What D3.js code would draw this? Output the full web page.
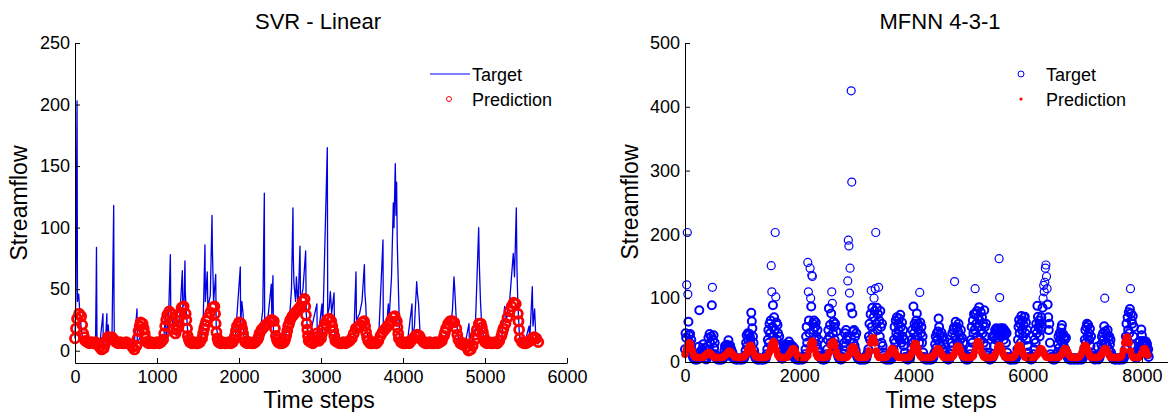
<!DOCTYPE html>
<html>
<head>
<meta charset="utf-8">
<script src="https://cdn.jsdelivr.net/npm/d3@7"></script>
<style>
  body { margin: 0; background: #fff; }
  svg { display: block; font-family: "Liberation Sans", Arial, sans-serif; }
</style>
</head>
<body>
<svg id="chart" width="1168" height="412"></svg>
<script>
// ---- SVR - Linear (left panel) ----
// target: [time step, streamflow]
const svrTarget = [
  [0,10],[10,45],[25,203],[30,40],[45,46],[60,30],[80,15],[100,8],[150,5],[200,4],[250,5],[258,52],[262,84],[268,8],
  [300,4],[341,30],[345,5],[370,6],[389,30],[392,8],[405,21],[420,6],[450,5],[472,118],[476,38],[480,6],[550,4],
  [650,4],[720,3],[756,34],[760,6],[800,12],[850,8],[900,4],[1000,4],[1080,5],[1106,35],[1110,10],[1140,25],
  [1163,78],[1168,30],[1200,20],[1240,12],[1280,30],[1309,65],[1315,35],[1330,40],[1341,73],[1345,47],[1360,30],
  [1380,10],[1420,5],[1500,4],[1560,15],[1585,86],[1590,40],[1613,64],[1620,35],[1650,45],[1671,110],[1675,84],
  [1690,40],[1716,62],[1722,20],[1760,6],[1850,4],[1950,5],[2016,68],[2020,20],[2035,40],[2050,30],[2060,8],
  [2150,4],[2250,10],[2290,33],[2309,128],[2313,20],[2350,25],[2394,54],[2400,30],[2414,61],[2420,15],[2460,6],
  [2550,6],[2620,30],[2640,50],[2658,116],[2662,77],[2670,55],[2690,40],[2700,60],[2720,35],[2744,85],[2750,40],
  [2780,50],[2813,81],[2820,30],[2850,8],[2950,38],[2955,6],[3012,38],[3020,15],[3077,165],[3082,30],[3100,35],
  [3114,48],[3130,30],[3159,47],[3165,15],[3200,5],[3300,4],[3400,12],[3427,64],[3432,25],[3470,30],[3500,40],
  [3529,70],[3535,47],[3545,38],[3560,15],[3600,5],[3700,6],[3756,90],[3760,15],[3800,20],[3821,38],[3830,25],
  [3860,60],[3882,120],[3890,100],[3906,152],[3915,110],[3922,137],[3930,88],[3945,48],[3960,10],[4050,5],
  [4110,38],[4115,10],[4140,20],[4167,56],[4175,47],[4190,38],[4210,12],[4300,4],[4450,4],[4580,20],[4603,33],
  [4622,60],[4630,51],[4650,25],[4680,8],[4750,3],[4805,22],[4810,2],[4880,15],[4923,100],[4930,72],[4945,40],
  [4960,20],[5000,5],[5100,4],[5200,8],[5240,36],[5260,25],[5300,40],[5345,79],[5360,60],[5382,116],[5390,66],
  [5400,40],[5420,12],[5480,5],[5537,20],[5545,8],[5577,52],[5585,20],[5605,34],[5620,10],[5650,5]
];
// prediction, one value every 25 time steps from 0
const svrPredStep = 25;
const svrPred = [
  10,26,30,28,14,8,7,6,7,6, 7,5,3,1,2,8,11,10,11,9, 7,6,7,6,6,7,6,5,3,1, 4,16,23,22,14,7,6,7,6,6,
  7,6,7,9,20,29,32,30,18,14, 20,28,35,36,30,12,7,6,7,6, 6,7,10,18,24,27,31,35,36,15, 7,6,7,6,6,7,6,7,12,20,
  23,22,14,7,6,7,6,6,7,9, 14,17,19,21,22,24,25,24,12,7, 6,6,7,12,20,25,28,30,32,34, 36,40,42,22,8,7,6,8,14,8,
  10,18,22,25,26,24,16,8,7,6, 6,7,6,7,8,10,14,18,19,21, 23,24,15,8,6,6,7,6,8,12, 15,17,19,21,24,27,28,24,10,7,
  6,6,7,6,8,10,12,13,12,9, 7,6,6,7,6,6,7,6,7,8, 12,18,22,24,24,23,18,9,6,5, 6,3,0,1,4,9,17,22,22,15,
  7,6,7,6,6,7,6,8,12,18, 22,27,32,36,39,38,30,10,7,6, 6,7,8,10,11,10,7
];
// extra prediction readings on the steep rises and falls: [time step, streamflow]
const svrPredLimbs = [
  [12,18],[88,21],[112,11],[362,5],[762,10],[788,20],[838,18],[862,10],[1088,14],[1112,25],[1188,24],
  [1238,17],[1262,24],[1288,31],[1358,25],[1367,18],[1388,9],[1562,14],[1588,21],[1708,30],[1716,22],
  [1738,10],[1938,9],[1962,16],[2038,18],[2062,10],[2238,11],[2438,18],[2462,9],[2562,9],[2588,16],
  [2612,22],[2808,36],[2816,29],[2833,17],[2841,12],[2938,11],[2962,11],[3012,14],[3138,20],[3162,12],
  [3538,20],[3562,11],[3933,19],[3942,14],[4512,15],[4662,13],[4888,13],[4962,19],[4988,11],[5212,15],
  [5408,24],[5416,17]
];
const svrXTicks = [0, 1000, 2000, 3000, 4000, 5000, 6000];
const svrYTicks = [0, 50, 100, 150, 200, 250];

// ---- MFNN 4-3-1 (right panel) ----
// target, one value every 10 time steps from 0
const mfnnTargetStep = 10;
const mfnnTarget = [
  20,45,38,121,203,106,63,42,30,44,25,35,18,12,8,
  6,5,4,5,4,4,5,4,6, 24,81,15, 8,6,12,20,9,28,14,22,6,5,4,5,
  10,25,38,20,44,30,15,40,89,117,35,42,22,30,12,8,
  6,5,4,5,4,4,5,4,4,5,4,5,6,
  10,18,25,12,22,27,15,20,34,24,18,26,12,20,8,15,10,7,6,
  5,4,5,4,4,5,4,6,5,4,4,5,4,5,4,6,5,8,10,
  18,30,42,25,45,35,20,44,38,28,77,64,53,40,30,18,12,8,
  6,5,4,5,4,4,5,4,6,5,4,4,5,4,5,4,6,5,8,12,
  20,35,50,30,60,45,65,151,110,55,89,40,70,50,203,102,62,35,58,45,25,40,15,10,
  8,6,5,10,18,25,12,22,28,15,20,26,10,18,32,24,14,27,20,12,25,16,8,22,10,6,5,4,5,
  4,5,4,4,5,4,6,5,4,4,5,6,8,12,
  20,40,55,30,156,110,65,45,147,100,87,136,134,60,50,65,35,55,62,40,28,50,20,35,15,10,8,
  6,5,4,5,4,4,5,4,6,8,12,
  20,35,50,84,40,58,30,76,110,92,45,63,55,35,60,28,48,20,15,10,8,
  6,5,4,5,4,5,8,12,
  18,30,45,25,50,35,40,127,191,182,108,147,86,425,282,76,48,30,50,25,40,18,45,10,
  8,6,5,4,5,4,4,5,4,6,5,4,4,5,4,6,8,12,15,
  20,40,60,35,75,112,55,85,45,70,100,80,115,203,60,85,50,75,117,65,40,80,55,30,60,25,15,10,
  6,5,4,5,4,4,5,4,6,5,4,4,5,6,8,12,
  20,35,55,30,65,45,70,40,60,50,68,35,74,55,30,62,40,50,25,35,15,8,
  6,5,4,5,4,5,6,8,12,
  20,35,50,30,87,45,60,35,55,65,76,40,60,50,30,109,62,45,55,30,40,15,8,
  6,5,4,5,4,4,5,4,6,5,4,4,5,4,5,6,8,12,
  15,28,40,22,45,35,48,68,55,30,42,25,46,38,20,40,28,35,15,10,8,
  6,5,4,5,4,5,8,12,
  18,30,45,25,50,54,126,40,63,35,55,30,48,60,25,42,35,50,20,38,15,30,10,8,
  6,5,4,5,4,5,4,6,8,12,
  20,35,55,30,65,45,75,50,115,76,60,80,40,70,55,86,65,35,78,50,70,45,60,30,81,55,40,60,25,15,10,
  6,5,4,5,4,5,6,40,8,12,
  25,40,50,35,53,45,50,38,52,162,101,48,53,40,50,45,53,35,50,42,48,30,45,15,
  8,6,5,4,5,4,4,5,4,6,5,4,5,4,6,8,12,
  20,35,55,66,45,60,30,72,50,65,40,58,70,71,45,62,35,50,25,15,8,
  6,5,4,5,4,5,8,12,
  20,35,50,30,60,45,88,71,55,65,40,60,50,70,55,85,100,120,110,125,147,152,134,115,90,70,50,60,30,12,
  8,6,5,4,5,4,5,4,6,8,12,
  15,28,40,22,45,35,42,53,58,30,44,25,40,35,20,38,15,10,8,
  6,5,4,5,4,4,5,4,6,5,4,4,5,4,6,5,4,4,5,4,6,5,4,5,4,6,8,12,
  20,35,50,30,55,60,40,58,45,35,52,25,40,15,10,8,
  6,5,4,5,4,5,6,24,5,4,6,8,12,
  15,28,40,22,45,35,56,100,48,30,42,25,50,38,20,40,28,35,15,10,8,
  6,5,4,5,4,4,5,4,6,5,4,4,5,4,5,4,6,5,4,6,8,12,
  20,40,60,35,70,50,78,45,83,115,76,65,60,72,40,55,25,12,8,
  6,10,
  12,20,30,18,33,25,15,51,42,28,33,20,30,15,25,32,18,28,12,20,8
];
// prediction, one value every 25 time steps from 0
const mfnnPredStep = 25;
const mfnnPred = [
  12,20,27,30,27,18,11, 8,7,7,7,7,7,8, 10,12,14,15,13,10,8, 7,7,7,7,7,7,8,10,
  12,15,17,16,13,10,8, 7,7,7,7,7,8,10, 13,20,25,26,22,15,10, 8,7,7,7,7,7,7,8,10,
  15,22,29,32,28,18,11, 8,7,7,7,7,7,9, 12,16,20,21,18,13,9, 7,7,7,7,7,8,10,
  18,28,33,30,20,12,8, 7,7,7,7,7,8,10, 15,26,31,32,26,16,10, 8,7,7,7,7,7,9,
  12,19,23,24,20,13,9, 7,7,7,7,7,8,10, 17,30,37,38,30,17,10, 7,7,7,7,7,8,10,
  13,18,21,20,16,11,8, 7,7,7,7,7,7,7,8,10, 15,24,29,28,22,13,9, 7,7,7,7,7,7,7,8,10,
  13,18,21,20,16,11,8, 7,7,7,7,7,8,10, 15,22,25,24,18,11,8, 7,7,7,7,7,8,10,
  17,27,32,31,24,14,9, 7,7,7,7,7,7,8,10, 15,23,26,25,19,12,8, 7,7,7,7,7,8,10,
  15,23,26,25,19,12,8, 7,7,7,7,7,7,8,10, 13,18,21,20,16,11,8, 7,7,7,7,7,7,7,7,8,10,
  13,18,21,20,16,11,8, 7,7,7,7,7,8,10, 15,23,26,25,19,12,8, 7,7,7,7,7,8,10,
  13,18,21,20,16,11,8, 7,7,7,7,7,7,8,10, 18,30,38,39,30,17,10, 7,7,7,7,8,10,
  14,20,21,17,11
];
const mfnnXTicks = [0, 2000, 4000, 6000, 8000];
const mfnnYTicks = [0, 100, 200, 300, 400, 500];

const FONT = '"Liberation Sans", Arial, sans-serif';
const BLUE = '#0000ff', RED = '#ff0000';
const svg = d3.select('#chart');

function axes(x, y, xTicks, yTicks, x0, y0) {
  const gx = svg.append('g').attr('transform', `translate(0,${y0})`)
    .call(d3.axisBottom(x).tickValues(xTicks).tickFormat(d3.format('d')).tickSize(-5).tickSizeOuter(0).tickPadding(7));
  const gy = svg.append('g').attr('transform', `translate(${x0},0)`)
    .call(d3.axisLeft(y).tickValues(yTicks).tickFormat(d3.format('d')).tickSize(-5).tickSizeOuter(0).tickPadding(5));
  [gx, gy].forEach(g => {
    g.attr('font-family', FONT).attr('font-size', 18);
    g.selectAll('text').attr('fill', '#000');
    g.selectAll('line,path').attr('stroke', '#000');
  });
}

function labels(title, cx, xlabX, ylabX, cy) {
  svg.append('text').attr('x', cx).attr('y', 29).attr('text-anchor', 'middle')
    .attr('font-size', 22).text(title);
  svg.append('text').attr('x', xlabX).attr('y', 408).attr('text-anchor', 'middle')
    .attr('font-size', 23).text('Time steps');
  svg.append('text').attr('transform', `translate(${ylabX},${cy}) rotate(-90)`).attr('text-anchor', 'middle')
    .attr('font-size', 23).text('Streamflow');
}

// ---- left panel ----
const xL = d3.scaleLinear().domain([0, 6000]).range([75, 567]);
const yL = d3.scaleLinear().domain([-10, 250]).range([363, 43]);

svg.append('path').datum(svrTarget)
  .attr('fill', 'none').attr('stroke', '#0000e0').attr('stroke-width', 1.3)
  .attr('stroke-linejoin', 'round')
  .attr('d', d3.line().x(d => xL(d[0])).y(d => yL(d[1])));

const svrPredPts = svrPred.map((v, i) => [i * svrPredStep, v]).concat(svrPredLimbs);
svg.append('g').selectAll('circle').data(svrPredPts).join('circle')
  .attr('cx', d => xL(d[0])).attr('cy', d => yL(d[1])).attr('r', 4.5)
  .attr('fill', 'none').attr('stroke', RED).attr('stroke-width', 2.8);

axes(xL, yL, svrXTicks, svrYTicks, 75, 363);
labels('SVR - Linear', 318, 319, 27, 203);

// legend
svg.append('line').attr('x1', 430).attr('x2', 470).attr('y1', 74).attr('y2', 74).attr('stroke', BLUE);
svg.append('circle').attr('cx', 449).attr('cy', 99).attr('r', 2.5).attr('fill', 'none').attr('stroke', RED);
svg.append('text').attr('x', 472).attr('y', 81).attr('font-size', 18).text('Target');
svg.append('text').attr('x', 472).attr('y', 106).attr('font-size', 18).text('Prediction');

// ---- right panel ----
const xR = d3.scaleLinear().domain([0, 9000]).range([685, 1199]);
const yR = d3.scaleLinear().domain([0, 500]).range([362, 43]);

svg.append('g').selectAll('circle').data(mfnnTarget).join('circle')
  .attr('cx', (d, i) => xR(i * mfnnTargetStep)).attr('cy', d => yR(d)).attr('r', 4)
  .attr('fill', 'none').attr('stroke', BLUE).attr('stroke-width', d => d > 90 ? 1.2 : 2);

svg.append('g').selectAll('circle').data(mfnnPred).join('circle')
  .attr('cx', (d, i) => xR(i * mfnnPredStep)).attr('cy', d => yR(d)).attr('r', 3.8)
  .attr('fill', RED);

axes(xR, yR, mfnnXTicks, mfnnYTicks, 685, 362);
labels('MFNN 4-3-1', 940, 941, 638, 202);

svg.append('circle').attr('cx', 1021).attr('cy', 74).attr('r', 3).attr('fill', 'none').attr('stroke', BLUE);
svg.append('circle').attr('cx', 1021).attr('cy', 99).attr('r', 1.6).attr('fill', RED);
svg.append('text').attr('x', 1046).attr('y', 81).attr('font-size', 18).text('Target');
svg.append('text').attr('x', 1046).attr('y', 106).attr('font-size', 18).text('Prediction');
</script>
</body>
</html>
